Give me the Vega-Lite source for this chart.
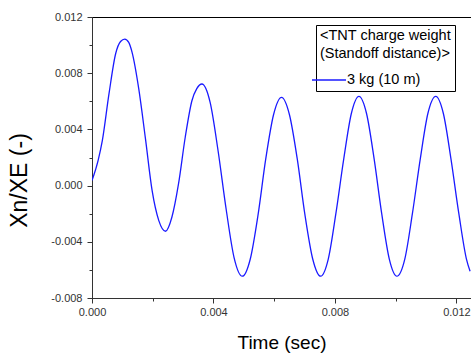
{
  "$schema": "https://vega.github.io/schema/vega-lite/v6.json",
  "width": 379,
  "height": 281,
  "autosize": {"type": "none"},
  "padding": {"left": 92, "top": 17, "right": 0, "bottom": 58},
  "background": "white",
  "config": {
    "view": {"stroke": "black", "strokeWidth": 1},
    "font": "Liberation Sans"
  },
  "data": {
    "values": [
      {"t": 0, "v": 0.00036, "s": "3 kg (10 m)"},
      {"t": 0.0002, "v": 0.00178, "s": "3 kg (10 m)"},
      {"t": 0.00034, "v": 0.0032, "s": "3 kg (10 m)"},
      {"t": 0.00056, "v": 0.00654, "s": "3 kg (10 m)"},
      {"t": 0.00078, "v": 0.0094, "s": "3 kg (10 m)"},
      {"t": 0.00094, "v": 0.01026, "s": "3 kg (10 m)"},
      {"t": 0.00108, "v": 0.01043, "s": "3 kg (10 m)"},
      {"t": 0.00121, "v": 0.01019, "s": "3 kg (10 m)"},
      {"t": 0.00132, "v": 0.00948, "s": "3 kg (10 m)"},
      {"t": 0.00154, "v": 0.00688, "s": "3 kg (10 m)"},
      {"t": 0.00176, "v": 0.00334, "s": "3 kg (10 m)"},
      {"t": 0.00198, "v": -0.00036, "s": "3 kg (10 m)"},
      {"t": 0.0022, "v": -0.00249, "s": "3 kg (10 m)"},
      {"t": 0.00242, "v": -0.00325, "s": "3 kg (10 m)"},
      {"t": 0.00263, "v": -0.00225, "s": "3 kg (10 m)"},
      {"t": 0.00285, "v": 0.00014, "s": "3 kg (10 m)"},
      {"t": 0.00307, "v": 0.00344, "s": "3 kg (10 m)"},
      {"t": 0.00329, "v": 0.00604, "s": "3 kg (10 m)"},
      {"t": 0.00345, "v": 0.0069, "s": "3 kg (10 m)"},
      {"t": 0.00362, "v": 0.00723, "s": "3 kg (10 m)"},
      {"t": 0.00389, "v": 0.00592, "s": "3 kg (10 m)"},
      {"t": 0.00415, "v": 0.0025, "s": "3 kg (10 m)"},
      {"t": 0.00442, "v": -0.00172, "s": "3 kg (10 m)"},
      {"t": 0.00468, "v": -0.00514, "s": "3 kg (10 m)"},
      {"t": 0.00495, "v": -0.00645, "s": "3 kg (10 m)"},
      {"t": 0.00521, "v": -0.00524, "s": "3 kg (10 m)"},
      {"t": 0.00547, "v": -0.00205, "s": "3 kg (10 m)"},
      {"t": 0.00572, "v": 0.00188, "s": "3 kg (10 m)"},
      {"t": 0.00598, "v": 0.00506, "s": "3 kg (10 m)"},
      {"t": 0.00624, "v": 0.00628, "s": "3 kg (10 m)"},
      {"t": 0.0065, "v": 0.00506, "s": "3 kg (10 m)"},
      {"t": 0.00676, "v": 0.00188, "s": "3 kg (10 m)"},
      {"t": 0.00701, "v": -0.00205, "s": "3 kg (10 m)"},
      {"t": 0.00727, "v": -0.00524, "s": "3 kg (10 m)"},
      {"t": 0.00753, "v": -0.00645, "s": "3 kg (10 m)"},
      {"t": 0.00778, "v": -0.00523, "s": "3 kg (10 m)"},
      {"t": 0.00803, "v": -0.002, "s": "3 kg (10 m)"},
      {"t": 0.00829, "v": 0.0019, "s": "3 kg (10 m)"},
      {"t": 0.00854, "v": 0.00513, "s": "3 kg (10 m)"},
      {"t": 0.00879, "v": 0.00635, "s": "3 kg (10 m)"},
      {"t": 0.00904, "v": 0.00513, "s": "3 kg (10 m)"},
      {"t": 0.00929, "v": 0.0019, "s": "3 kg (10 m)"},
      {"t": 0.00954, "v": -0.002, "s": "3 kg (10 m)"},
      {"t": 0.00979, "v": -0.00523, "s": "3 kg (10 m)"},
      {"t": 0.01004, "v": -0.00645, "s": "3 kg (10 m)"},
      {"t": 0.0103, "v": -0.00523, "s": "3 kg (10 m)"},
      {"t": 0.01055, "v": -0.002, "s": "3 kg (10 m)"},
      {"t": 0.01081, "v": 0.0019, "s": "3 kg (10 m)"},
      {"t": 0.01106, "v": 0.00513, "s": "3 kg (10 m)"},
      {"t": 0.01132, "v": 0.00635, "s": "3 kg (10 m)"},
      {"t": 0.01157, "v": 0.00513, "s": "3 kg (10 m)"},
      {"t": 0.01182, "v": 0.0019, "s": "3 kg (10 m)"},
      {"t": 0.01208, "v": -0.002, "s": "3 kg (10 m)"},
      {"t": 0.01233, "v": -0.00523, "s": "3 kg (10 m)"},
      {"t": 0.01245, "v": -0.0061, "s": "3 kg (10 m)"}
    ]
  },
  "mark": {"type": "line", "interpolate": "monotone", "strokeWidth": 1.3, "clip": true},
  "encoding": {
    "x": {
      "field": "t",
      "type": "quantitative",
      "scale": {"domain": [0, 0.01248], "nice": false, "zero": false},
      "axis": {
        "title": "Time (sec)",
        "values": [0, 0.002, 0.004, 0.006, 0.008, 0.01, 0.012],
        "labelExpr": "round(datum.value*500) % 2 == 0 ? replace(format(datum.value, '.3f'), '\u2212', '-') : ''",
        "grid": false,
        "domainColor": "#333333",
        "tickColor": "#333333",
        "tickSize": {"condition": {"test": "round(datum.value*500) % 2 == 0", "value": 5}, "value": 3},
        "labelFont": "Liberation Sans",
        "labelFontSize": 11,
        "labelColor": "#333333",
        "labelPadding": 3,
        "labelFlush": false,
        "labelOverlap": false,
        "titleFont": "Liberation Sans",
        "titleFontSize": 19,
        "titleFontWeight": "normal",
        "titleColor": "black",
        "titleY": 50,
        "titleBaseline": "alphabetic"
      }
    },
    "y": {
      "field": "v",
      "type": "quantitative",
      "scale": {"domain": [-0.008, 0.012], "nice": false, "zero": false},
      "axis": {
        "title": "Xn/XE (-)",
        "values": [-0.008, -0.006, -0.004, -0.002, 0, 0.002, 0.004, 0.006, 0.008, 0.01, 0.012],
        "labelExpr": "round(datum.value*500) % 2 == 0 ? replace(format(datum.value, '.3f'), '\u2212', '-') : ''",
        "grid": false,
        "domainColor": "#333333",
        "tickColor": "#333333",
        "tickSize": {"condition": {"test": "round(datum.value*500) % 2 == 0", "value": 5}, "value": 3},
        "labelFont": "Liberation Sans",
        "labelFontSize": 11,
        "labelColor": "#333333",
        "labelPadding": 5,
        "labelFlush": false,
        "labelOverlap": false,
        "titleFont": "Liberation Sans",
        "titleFontSize": 23,
        "titleFontWeight": "normal",
        "titleColor": "black",
        "titleAngle": -90,
        "titleX": -73,
        "titleY": 163,
        "titleAlign": "center",
        "titleBaseline": "middle"
      }
    },
    "color": {
      "field": "s",
      "type": "nominal",
      "scale": {"domain": ["3 kg (10 m)"], "range": ["#1a1aff"]},
      "legend": {
        "title": ["\u00a0<TNT charge weight", "\u00a0\u00a0(Standoff distance)>"],
        "orient": "none",
        "legendX": 224,
        "legendY": 8,
        "strokeColor": "black",
        "fillColor": "white",
        "padding": 4,
        "titleFont": "Liberation Sans",
        "titleFontSize": 14.5,
        "titleFontWeight": "normal",
        "titleColor": "black",
        "titleLineHeight": 17.5,
        "titlePadding": 1,
        "labelFont": "Liberation Sans",
        "labelFontSize": 14.5,
        "labelColor": "black",
        "symbolType": "stroke",
        "symbolSize": 1156,
        "symbolStrokeWidth": 1.3,
        "symbolOffset": -9,
        "labelOffset": 0
      }
    }
  }
}
